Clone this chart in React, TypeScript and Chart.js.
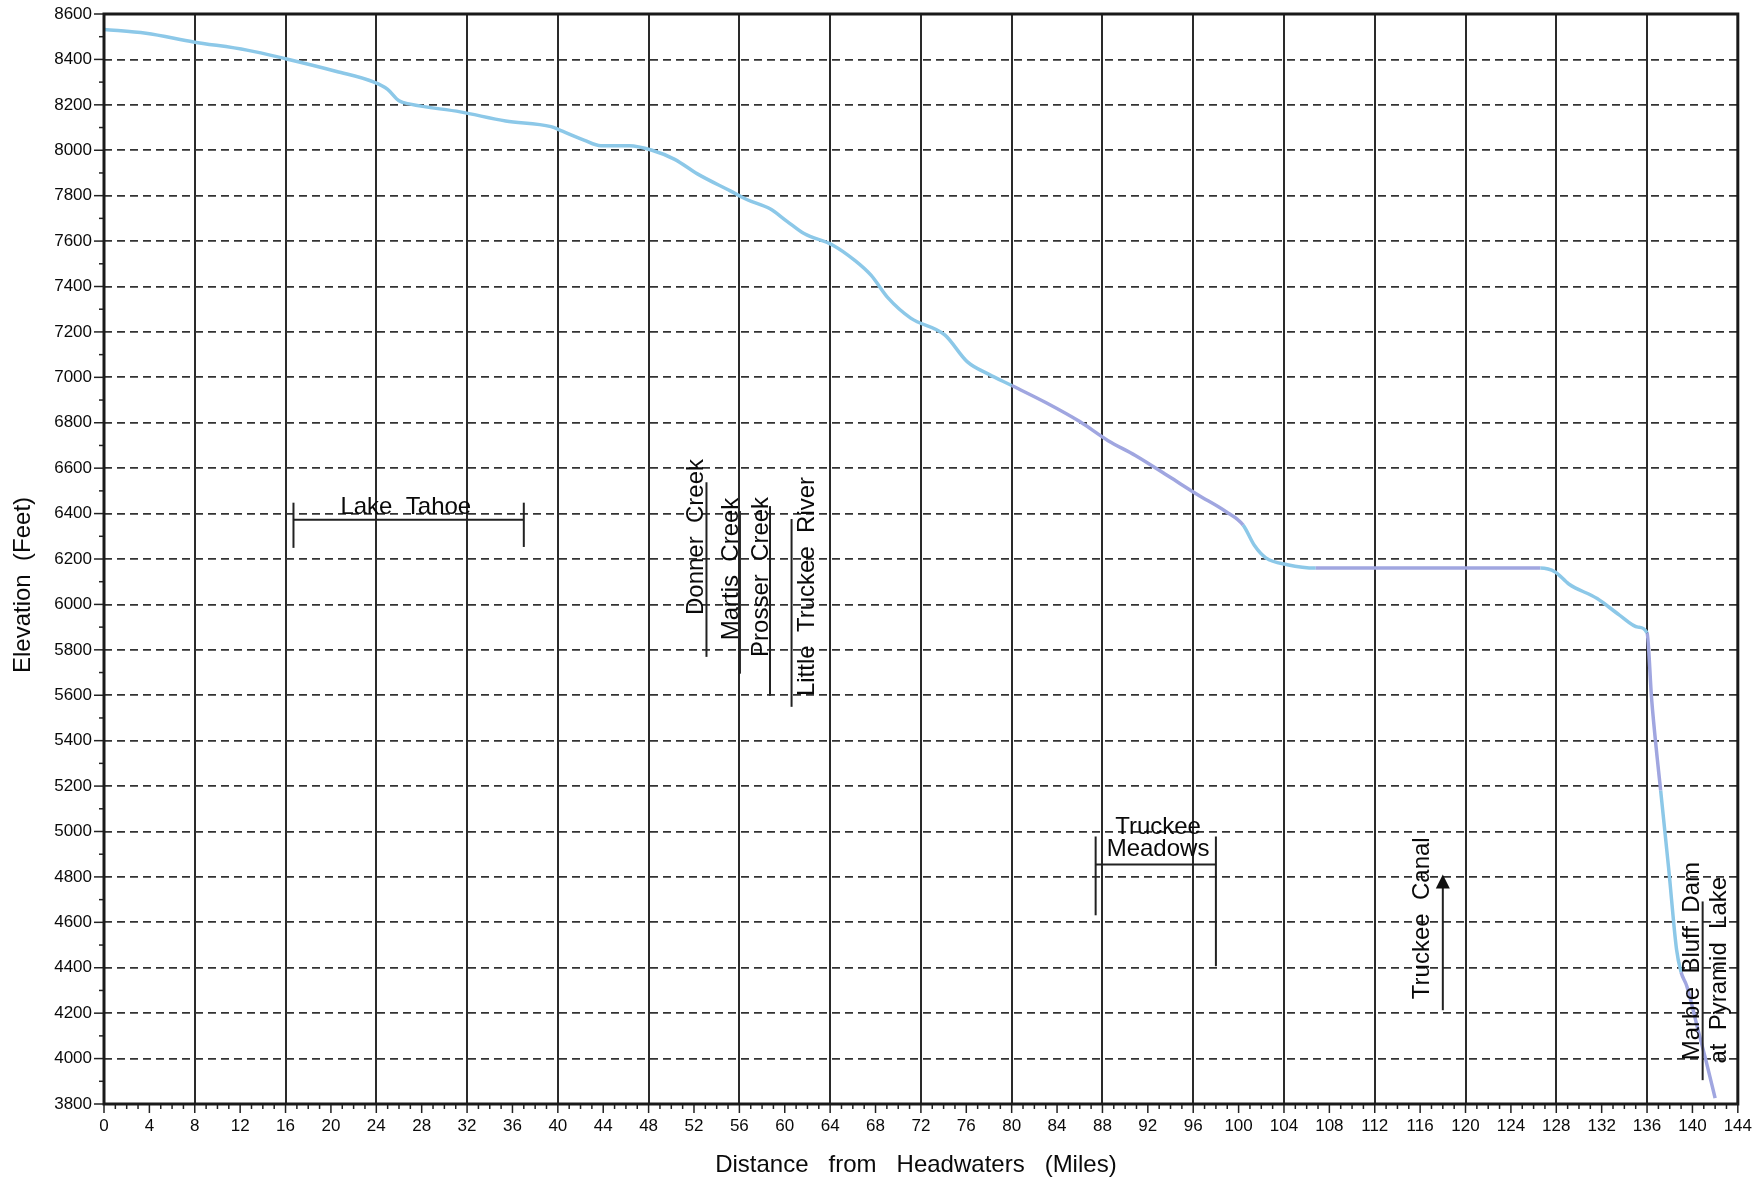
import React, { useEffect, useRef } from 'react';
import { Chart, registerables } from 'chart.js';

Chart.register(...registerables);

// River profile: distance from headwaters (miles) and elevation (feet)
const miles = [0, 3.7, 7.9, 12.6, 16, 20.5, 23.8, 25, 26, 27, 31.4, 35.4, 39.4, 40.4, 42.3, 43.8, 46.3, 48.3, 50.3, 52.3, 55.2, 56.7, 58.7, 60.2, 61.7, 64.2, 66.2, 67.6, 69.1, 71.1, 74.1, 76.1, 78, 80, 83, 86, 88.5, 90.9, 93.9, 96.4, 98.9, 100.4, 101.4, 102.4, 104.3, 106.8, 114.7, 126.6, 127.9, 129.1, 131.6, 133.6, 135.2, 136.0, 136.4, 136.9, 137.2, 137.9, 138.6, 139.0, 139.5, 140.5, 141.2, 142.0];
const elevations = [8532, 8515, 8477, 8441, 8403, 8347, 8300, 8268, 8218, 8203, 8169, 8129, 8104, 8084, 8045, 8020, 8020, 8000, 7960, 7896, 7821, 7782, 7742, 7687, 7633, 7583, 7514, 7450, 7350, 7261, 7187, 7068, 7013, 6964, 6889, 6805, 6721, 6656, 6562, 6483, 6408, 6349, 6259, 6205, 6175, 6160, 6160, 6160, 6143, 6090, 6026, 5952, 5900, 5875, 5585, 5321, 5180, 4840, 4480, 4380, 4320, 4125, 3990, 3826];

const xMin = 0;
const xMax = 144;
const yMin = 3800;
const yMax = 8600;

// Colour bands of the traced line (miles)
const purpleSpans: [number, number][] = [[80, 100.5], [106, 127], [136, 137.4], [139, 143]];

// Text labels in data coordinates
type Label = { text: string; mile: number; ft: number; rotate: boolean };
const textLabels: Label[] = [
  { text: 'Lake  Tahoe', mile: 26.6, ft: 6398, rotate: false },
  { text: 'Donner  Creek', mile: 52.8, ft: 6297, rotate: true },
  { text: 'Martis  Creek', mile: 55.85, ft: 6156, rotate: true },
  { text: 'Prosser  Creek', mile: 58.55, ft: 6121, rotate: true },
  { text: 'Little  Truckee  River', mile: 62.6, ft: 6079, rotate: true },
  { text: 'Truckee', mile: 92.9, ft: 4991, rotate: false },
  { text: 'Meadows', mile: 92.9, ft: 4890, rotate: false },
  { text: 'Truckee  Canal', mile: 116.8, ft: 4618, rotate: true },
  { text: 'Marble  Bluff  Dam', mile: 140.6, ft: 4429, rotate: true },
  { text: 'at  Pyramid  Lake', mile: 143.0, ft: 4389, rotate: true },
];

// Bracket / marker segments [mile1, ft1, mile2, ft2]
const markerLines: [number, number, number, number][] = [
  [16.7, 6373, 37.0, 6373],
  [16.7, 6448, 16.7, 6249],
  [37.0, 6448, 37.0, 6253],
  [53.1, 6538, 53.1, 5769],
  [56.05, 6411, 56.05, 5695],
  [58.7, 6433, 58.7, 5598],
  [60.6, 6376, 60.6, 5549],
  [87.4, 4855, 98.0, 4855],
  [87.4, 4978, 87.4, 4631],
  [98.0, 4978, 98.0, 4407],
  [140.9, 4692, 140.9, 3905],
];
// Arrow for Truckee Canal [mile, ftFrom, ftTo]
const canalArrow = [118.0, 4213, 4811];

const tickFont = '"Liberation Sans Narrow", "Liberation Sans", Arial, sans-serif';
const textFont = '"Liberation Sans", Arial, sans-serif';

const overlay = {
  id: 'overlay',
  afterDraw(chart: any) {
    const { ctx, chartArea: a, scales } = chart;
    const x = scales.x;
    const y = scales.y;
    const line = (x1: number, y1: number, x2: number, y2: number) => {
      ctx.beginPath();
      ctx.moveTo(x1, y1);
      ctx.lineTo(x2, y2);
      ctx.stroke();
    };
    ctx.save();
    // tick marks
    ctx.strokeStyle = '#222';
    ctx.lineWidth = 1.5;
    y.ticks.forEach((t: any) => {
      const py = y.getPixelForValue(t.value);
      const len = t.value % 200 === 0 ? 10 : 5;
      line(a.left - len, py, a.left, py);
    });
    x.ticks.forEach((t: any) => {
      const px = x.getPixelForValue(t.value);
      const len = t.value % 4 === 0 ? 9 : 5;
      line(px, a.bottom, px, a.bottom + len);
    });
    // frame
    ctx.lineWidth = 3;
    ctx.strokeStyle = '#1a1a1a';
    ctx.strokeRect(a.left, a.top, a.right - a.left, a.bottom - a.top);

    // marker lines
    ctx.lineWidth = 2;
    ctx.strokeStyle = '#222';
    markerLines.forEach(([m1, f1, m2, f2]) => {
      line(x.getPixelForValue(m1), y.getPixelForValue(f1), x.getPixelForValue(m2), y.getPixelForValue(f2));
    });
    // arrow
    const ax = x.getPixelForValue(canalArrow[0]);
    const ay1 = y.getPixelForValue(canalArrow[1]);
    const ay2 = y.getPixelForValue(canalArrow[2]);
    line(ax, ay1, ax, ay2 + 10);
    ctx.fillStyle = '#111';
    ctx.beginPath();
    ctx.moveTo(ax, ay2);
    ctx.lineTo(ax - 7, ay2 + 14);
    ctx.lineTo(ax + 7, ay2 + 14);
    ctx.closePath();
    ctx.fill();

    // labels
    ctx.fillStyle = '#0a0a0a';
    ctx.font = `24px ${textFont}`;
    ctx.textAlign = 'center';
    ctx.textBaseline = 'alphabetic';
    textLabels.forEach((l) => {
      const px = x.getPixelForValue(l.mile);
      const py = y.getPixelForValue(l.ft);
      if (l.rotate) {
        ctx.save();
        ctx.translate(px, py);
        ctx.rotate(-Math.PI / 2);
        ctx.fillText(l.text, 0, 0);
        ctx.restore();
      } else {
        ctx.fillText(l.text, px, py);
      }
    });

    // axis titles
    ctx.textBaseline = 'middle';
    ctx.fillText('Distance   from   Headwaters   (Miles)', (a.left + a.right) / 2 - 5, 1165);
    ctx.save();
    ctx.translate(23, 585);
    ctx.rotate(-Math.PI / 2);
    ctx.fillText('Elevation  (Feet)', 0, 0);
    ctx.restore();
    ctx.restore();
  },
};

export default function App() {
  const ref = useRef<HTMLCanvasElement | null>(null);
  useEffect(() => {
    document.body.style.margin = '0';
    const canvas = ref.current;
    if (!canvas) return;
    const points = miles.map((m, i) => ({ x: m, y: elevations[i] }));
    const chart = new Chart(canvas, {
      type: 'line',
      data: {
        datasets: [
          {
            data: points,
            borderColor: '#8cc8e8',
            borderWidth: 3.5,
            pointRadius: 0,
            cubicInterpolationMode: 'monotone',
            segment: {
              borderColor: (c: any) => {
                const m = (c.p0.parsed.x + c.p1.parsed.x) / 2;
                return purpleSpans.some(([s, e]) => m >= s && m <= e) ? '#a0a6e0' : '#8cc8e8';
              },
            },
          } as any,
        ],
      },
      options: {
        responsive: false,
        animation: false,
        layout: { padding: { top: 14, right: 26, left: 0, bottom: 0 } },
        plugins: { legend: { display: false }, tooltip: { enabled: false } },
        scales: {
          x: {
            type: 'linear',
            min: xMin,
            max: xMax,
            afterFit: (s: any) => {
              s.height = 75;
            },
            ticks: {
              stepSize: 1,
              autoSkip: false,
              maxRotation: 0,
              minRotation: 0,
              maxTicksLimit: 1000,
              callback: (v: any) => (v % 4 === 0 ? String(v) : ''),
              font: { family: tickFont, size: 17 },
              color: '#0a0a0a',
              padding: 12,
            },
            grid: {
              color: (c: any) => (c.tick && c.tick.value % 8 === 0 ? '#2a2a2a' : 'rgba(0,0,0,0)'),
              lineWidth: 2,
              drawTicks: false,
            },
            border: { display: false },
          },
          y: {
            type: 'linear',
            min: yMin,
            max: yMax,
            afterFit: (s: any) => {
              s.width = 104;
              s.paddingTop = 0;
              s.paddingBottom = 0;
            },
            ticks: {
              stepSize: 100,
              autoSkip: false,
              maxTicksLimit: 1000,
              callback: (v: any) => (v % 200 === 0 ? String(v) : ''),
              font: { family: tickFont, size: 17 },
              color: '#0a0a0a',
              padding: 12,
            },
            grid: {
              color: (c: any) => (c.tick && c.tick.value % 200 === 0 ? '#333' : 'rgba(0,0,0,0)'),
              lineWidth: 1.8,
              drawTicks: false,
            },
            border: { display: false, dash: [8, 5] },
          },
        },
      } as any,
      plugins: [overlay],
    });
    return () => chart.destroy();
  }, []);
  return (
    <div style={{ width: 1764, height: 1179, background: '#fff' }}>
      <canvas ref={ref} width={1764} height={1179} style={{ display: 'block' }} />
    </div>
  );
}
